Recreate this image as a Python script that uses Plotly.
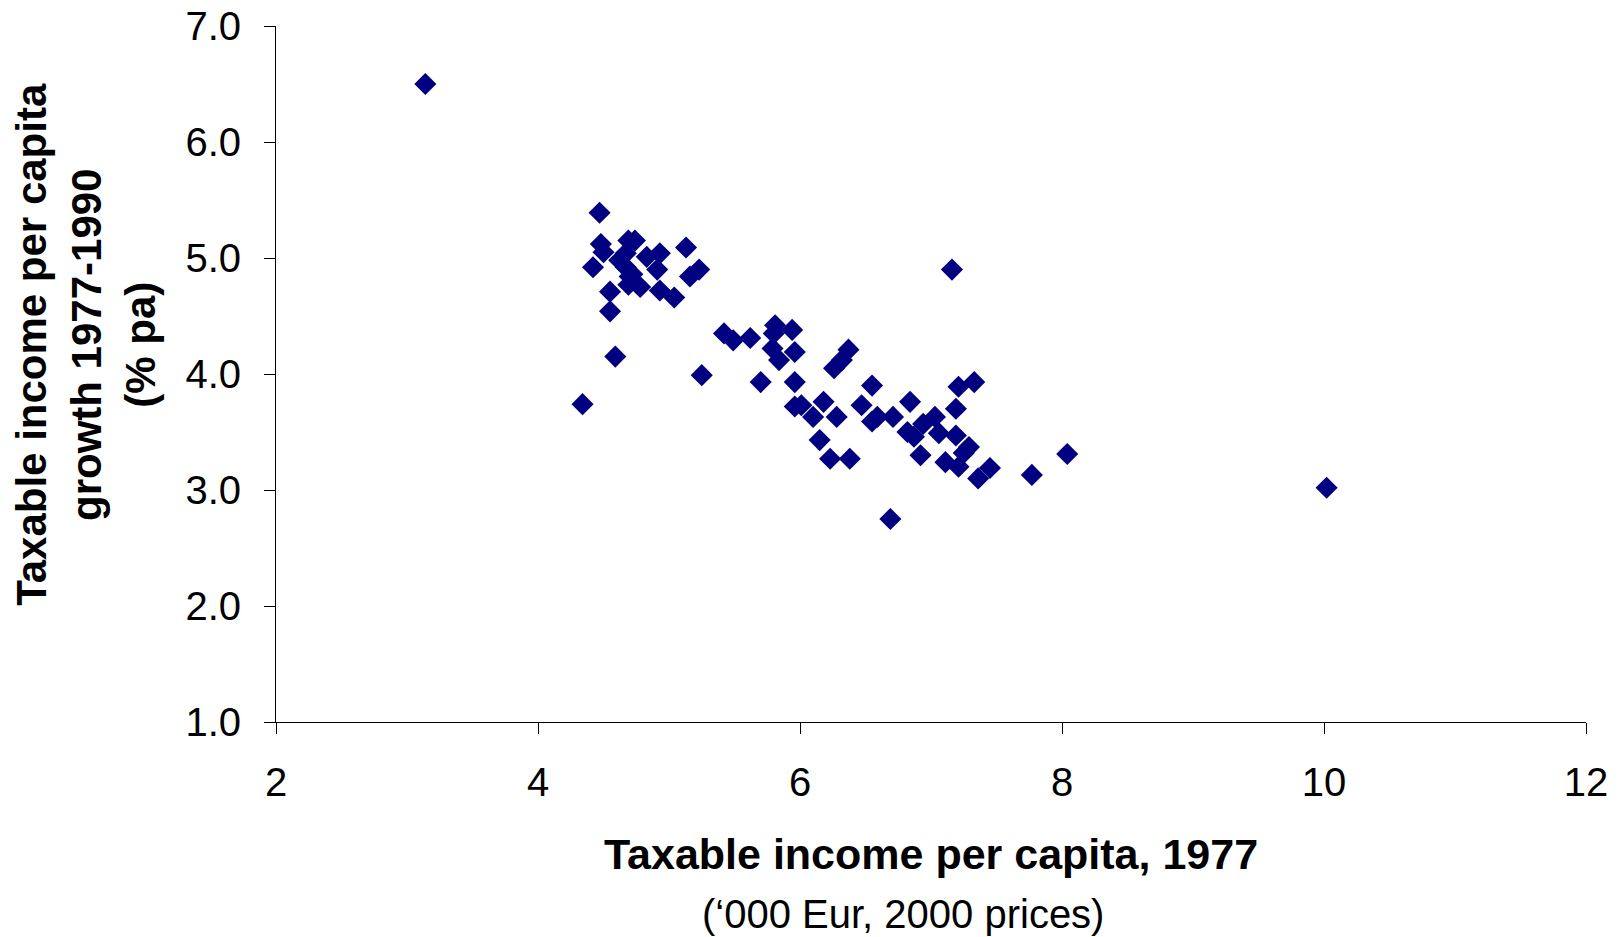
import plotly.graph_objects as go

income_1977 = [3.14, 4.47, 4.48, 4.50, 4.42, 4.55, 4.55, 4.59, 4.34, 4.69,
               4.74, 4.67, 4.67, 4.70, 4.69, 4.78, 4.83, 4.93, 4.91, 4.93,
               5.04, 5.13, 5.16, 5.23, 5.25, 5.42, 5.49, 5.62, 5.81, 5.80,
               5.94, 5.79, 5.84, 5.96, 5.70, 5.96, 6.37, 6.26, 6.32, 6.55,
               5.96, 6.01, 6.18, 6.10, 6.28, 6.47, 6.55, 6.59, 6.15, 6.23,
               6.38, 6.69, 6.84, 6.71, 7.21, 7.33, 7.19, 7.03, 6.94, 6.82,
               6.87, 6.92, 7.06, 7.19, 7.29, 7.11, 7.21, 7.36, 7.45, 7.77,
               8.04, 10.02, 7.16, 4.72, 7.25, 4.62]
growth_77_90 = [6.50, 5.39, 5.12, 5.05, 4.92, 4.71, 4.54, 4.15, 3.74, 5.15,
                5.15, 5.04, 4.92, 4.84, 4.77, 4.75, 5.01, 5.04, 4.90, 4.72,
                4.66, 5.09, 4.84, 4.90, 3.99, 4.35, 4.29, 4.31, 4.42, 4.35,
                4.38, 4.22, 4.12, 4.19, 3.93, 3.93, 4.21, 4.05, 4.12, 3.90,
                3.72, 3.73, 3.76, 3.63, 3.63, 3.73, 3.59, 3.63, 3.43, 3.27,
                3.27, 2.75, 3.76, 3.63, 3.89, 3.93, 3.70, 3.63, 3.57, 3.50,
                3.46, 3.30, 3.49, 3.47, 3.37, 3.24, 3.20, 3.10, 3.19, 3.13,
                3.31, 3.02, 4.90, 4.86, 3.32, 4.98]

x_ticks = [2, 4, 6, 8, 10, 12]
y_ticks = [1.0, 2.0, 3.0, 4.0, 5.0, 6.0, 7.0]
y_tick_labels = ["1.0", "2.0", "3.0", "4.0", "5.0", "6.0", "7.0"]

FONT = "Liberation Sans, Arial, sans-serif"

fig = go.Figure()
fig.add_trace(go.Scatter(
    x=income_1977, y=growth_77_90, mode="markers",
    marker=dict(symbol="diamond", size=17, color="#000080",
                line=dict(width=0)),
    hoverinfo="x+y", showlegend=False,
))

fig.update_layout(
    width=1619, height=937,
    margin=dict(l=268, r=41, t=18, b=223, autoexpand=False),
    paper_bgcolor="white", plot_bgcolor="white",
    font=dict(family=FONT, color="black", size=40),
    xaxis=dict(range=[2, 12], tickvals=x_ticks, ticks="outside", ticklen=11,
               tickwidth=1, tickcolor="black", showline=True, linecolor="black",
               linewidth=1, showgrid=False, zeroline=False, automargin=False,
               tickfont=dict(size=40), ticklabelstandoff=14,
               ticklabeloverflow="allow"),
    yaxis=dict(range=[1, 7], tickvals=y_ticks, ticktext=y_tick_labels,
               ticks="outside", ticklen=11, tickwidth=1, tickcolor="black",
               showline=True, linecolor="black", linewidth=1, showgrid=False,
               zeroline=False, automargin=False, tickfont=dict(size=40),
               ticklabelstandoff=15, ticklabeloverflow="allow"),
    annotations=[
        dict(text="<b>Taxable income per capita</b><br><b>growth 1977-1990</b><br><b>(% pa)</b>",
             xref="paper", yref="paper", x=-0.145, y=0.542, xanchor="center",
             yanchor="middle", textangle=-90, showarrow=False,
             font=dict(size=42, family=FONT), align="center"),
        dict(text="<b>Taxable income per capita, 1977</b>", xref="paper",
             yref="paper", x=0.5, y=-0.19, xanchor="center", yanchor="middle",
             showarrow=False, font=dict(size=43, family=FONT)),
        dict(text="(‘000 Eur, 2000 prices)", xref="paper", yref="paper",
             x=0.479, y=-0.276, xanchor="center", yanchor="middle",
             showarrow=False, font=dict(size=40, family=FONT)),
    ],
)

fig.write_html("out.html")
